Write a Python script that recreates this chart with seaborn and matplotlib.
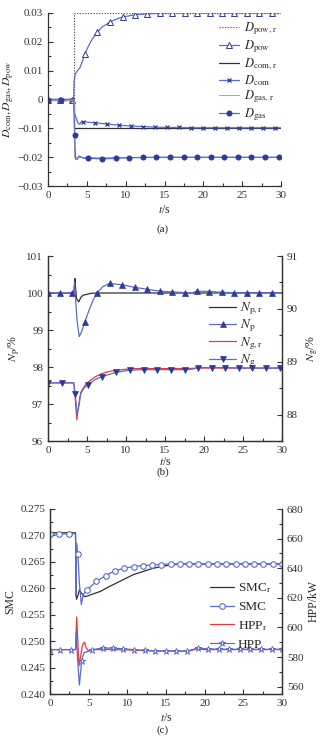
import numpy as np
import seaborn as sns
from matplotlib import pyplot as plt
from matplotlib.ticker import MultipleLocator

# ---------------- panel (a) data ----------------
t_pow_r = [0, 3.3, 3.3, 30]
d_pow_r = [0, 0, 0.03, 0.03]
t_com_r = [0, 3.3, 3.3, 30]
d_com_r = [0, 0, -0.01, -0.01]
t_gas_r = [0, 3.3, 3.3, 30]
d_gas_r = [0, 0, -0.02, -0.02]

t_pow = [0, 1.6, 3.15, 3.3, 3.35, 3.5, 3.8, 4.1, 4.4, 4.75, 5.2, 5.7, 6.35, 7.0, 7.95,
         8.8, 9.6, 11.2, 12.8, 14.4, 16.0, 17.6, 19.2, 20.8, 22.4, 24.0, 25.6, 27.2, 28.8, 30]
d_pow = [0, 0, 0, 0, 0.006, 0.0088, 0.0100, 0.0110, 0.0130, 0.0158, 0.0185, 0.0210, 0.0233,
         0.0252, 0.0268, 0.0279, 0.0286, 0.0294, 0.0297, 0.0299, 0.0300, 0.0300, 0.0300,
         0.0300, 0.0300, 0.0300, 0.0300, 0.0300, 0.0300, 0.0300]
mk_pow = [0, 1, 2, 9, 12, 14, 16, 17, 18, 19, 20, 21, 22, 23, 24, 25, 26, 27, 28]

t_com = [0, 1.6, 3.15, 3.3, 3.42, 3.6, 3.85, 4.08, 4.25, 4.48, 6.02, 7.57, 9.1, 10.66,
         12.2, 13.75, 15.3, 16.84, 18.39, 19.93, 21.48, 23.02, 24.57, 26.11, 27.66, 29.2, 30]
d_com = [0, 0, 0, 0, -0.0047, -0.0062, -0.0082, -0.0086, -0.0078, -0.0077, -0.0081,
         -0.0085, -0.0089, -0.0092, -0.0094, -0.0096, -0.0097, -0.0097, -0.0098, -0.0098,
         -0.0098, -0.0098, -0.0098, -0.0098, -0.0098, -0.0098, -0.0098]
mk_com = [0, 1, 2] + list(range(9, 26))

t_gas = [0, 1.72, 3.3, 3.44, 3.55, 3.75, 4.0, 4.3, 4.6, 5.2, 6.95, 8.7, 10.45, 12.2,
         13.95, 15.7, 17.45, 19.2, 20.95, 22.7, 24.45, 26.2, 27.95, 29.7, 30]
d_gas = [0, 0, 0, -0.0123, -0.0207, -0.0208, -0.0196, -0.0200, -0.0204, -0.0204, -0.0206,
         -0.0204, -0.0202, -0.0201, -0.0200, -0.0200, -0.0200, -0.0200, -0.0200, -0.0200,
         -0.0200, -0.0200, -0.0200, -0.0200, -0.0200]
mk_gas = [0, 1, 3] + list(range(9, 24))

# ---------------- panel (b) data ----------------
t_np_r = [0, 3.3, 3.38, 3.45, 3.52, 3.65, 3.95, 4.2, 4.5, 4.9, 5.5, 6.2, 30]
n_p_r = [100, 100, 100.15, 100.39, 100.2, 99.85, 99.76, 99.88, 99.94, 99.96, 99.99, 100, 100]

t_np = [0, 1.6, 3.1, 3.3, 3.4, 3.5, 3.7, 4.0, 4.3, 4.72, 5.2, 5.8, 6.3, 7.0, 7.95, 8.7,
        9.55, 11.16, 12.75, 14.3, 15.9, 17.5, 18.5, 19.1, 20.7, 22.3, 23.9, 25.5, 27.1, 28.7, 30]
n_p = [100, 100, 100, 100, 100.3, 100.0, 99.3, 98.82, 98.95, 99.22, 99.5, 99.82, 100.0,
       100.17, 100.26, 100.24, 100.22, 100.15, 100.10, 100.05, 100.03, 100.01, 100.01,
       100.05, 100.04, 100.02, 100.01, 100.01, 100.01, 100.01, 100.01]
mk_np = [0, 1, 2, 9, 12, 14, 16, 17, 18, 19, 20, 21, 23, 24, 25, 26, 27, 28, 29]

t_ng_r = [0, 3.3, 3.5, 3.7, 3.85, 4.2, 4.6, 5.0, 6.0, 7.0, 8.0, 9.5, 11, 13, 18, 19.2, 30]
n_g_r = [88.6, 88.6, 88.3, 87.9, 88.1, 88.42, 88.52, 88.6, 88.71, 88.78, 88.82, 88.85,
         88.87, 88.87, 88.87, 88.88, 88.88]

t_ng = [0, 1.75, 3.3, 3.5, 3.7, 3.9, 4.2, 4.6, 5.1, 6.0, 6.95, 8.75, 10.5, 12.3, 14.0,
        15.75, 17.5, 18.5, 19.2, 21.0, 22.7, 24.5, 26.2, 28.0, 29.7, 30]
n_g = [88.6, 88.6, 88.6, 88.38, 88.03, 88.1, 88.4, 88.5, 88.56, 88.66, 88.72, 88.80,
       88.84, 88.85, 88.85, 88.85, 88.85, 88.86, 88.89, 88.89, 88.89, 88.88, 88.88,
       88.88, 88.88, 88.88]
mk_ng = [0, 1, 3, 8, 10, 11, 12, 13, 14, 15, 16, 18, 19, 20, 21, 22, 23, 24]

# ---------------- panel (c) data ----------------
t_smc_r = [0, 3.3, 3.35, 3.42, 3.6, 3.8, 4.1, 4.5, 4.75, 5.5, 6.5, 7.5, 8.6, 9.7, 10.8,
           11.9, 12.9, 14.0, 15.1, 16.2, 17.3, 30]
smc_r = [0.2705, 0.2705, 0.264, 0.2579, 0.2586, 0.2597, 0.2590, 0.2584, 0.2585, 0.2589,
         0.2594, 0.2602, 0.2610, 0.2618, 0.2626, 0.2631, 0.2636, 0.2640, 0.2643, 0.2645,
         0.2646, 0.2646]

t_smc = [0, 1.2, 2.4, 3.3, 3.36, 3.45, 3.6, 3.8, 4.05, 4.3, 4.8, 6.0, 7.2, 8.4, 9.6, 10.8,
         12.0, 13.2, 14.4, 15.6, 16.8, 18.0, 19.2, 20.4, 21.6, 22.8, 24.0, 25.2, 26.4,
         27.6, 28.8, 30.0]
smc = [0.2703, 0.2703, 0.2703, 0.2703, 0.2585, 0.2685, 0.2665, 0.2610, 0.2569, 0.2588,
       0.2597, 0.2613, 0.2624, 0.2633, 0.2638, 0.2641, 0.2643, 0.2644, 0.2645, 0.2646,
       0.2646, 0.2646, 0.2646, 0.2646, 0.2646, 0.2646, 0.2646, 0.2646, 0.2646, 0.2646,
       0.2646, 0.2646]
mk_smc = [0, 1, 2, 6] + list(range(10, 32))

t_hpp_r = [0, 3.3, 3.45, 3.6, 3.75, 3.95, 4.2, 4.45, 4.7, 5.0, 5.5, 6.5, 8, 10, 12, 14,
           18, 19, 20, 30]
hpp_r = [585, 585, 607, 590, 574, 580, 588, 590, 586, 584, 585, 585, 585, 584.8, 584.3,
         584, 584, 585.5, 585, 585]

t_hpp = [0, 1.35, 2.7, 3.3, 3.4, 3.55, 3.8, 4.1, 4.4, 4.8, 5.45, 6.8, 8.2, 9.5, 10.85,
         12.25, 13.6, 15.0, 16.35, 17.7, 19.1, 20.45, 21.8, 23.2, 24.55, 25.9, 27.3,
         28.65, 30]
hpp = [585, 585, 585, 585, 597, 580, 561, 577.5, 583, 583.5, 585, 586, 586, 585.5, 585,
       584.5, 584.2, 584, 584, 584, 586, 585.5, 585.3, 585.2, 585.2, 585.2, 585.2,
       585.2, 585.2]
mk_hpp = [0, 1, 2, 7] + list(range(10, 29))

# ---------------- style ----------------
sns.set_theme(style="ticks")
plt.rcParams["font.family"] = ["Liberation Serif", "DejaVu Serif"]
plt.rcParams["mathtext.fontset"] = "stix"
plt.rcParams["axes.unicode_minus"] = True
FS = 8
LFS = 9.5

BLUE = "#5b6ccc"
NAVY = "#2c3a98"
BLACK = "#303030"
RED = "#e8393a"
GRAY = "#a8a8a8"

fig = plt.figure(figsize=(3.2, 7.44), dpi=100)
W, H = 320, 744


def px_axes(left, top, right, bottom):
    return fig.add_axes([left / W, 1 - bottom / H, (right - left) / W, (bottom - top) / H])


def style_axis(ax, xmaj, xmin, ymaj, ymin):
    ax.xaxis.set_major_locator(MultipleLocator(xmaj))
    ax.xaxis.set_minor_locator(MultipleLocator(xmin))
    ax.yaxis.set_major_locator(MultipleLocator(ymaj))
    ax.yaxis.set_minor_locator(MultipleLocator(ymin))
    ax.tick_params(which="both", direction="in", labelsize=FS, colors="#333333", width=0.8)
    ax.tick_params(which="major", length=3.5)
    ax.tick_params(which="minor", length=2)
    for s in ax.spines.values():
        s.set_linewidth(0.9)
        s.set_color("#333333")


def line(ax, t, y, color, label, lw=0.9, **kw):
    sns.lineplot(x=t, y=y, ax=ax, color=color, lw=lw, label=label,
                 sort=False, estimator=None, legend=False, **kw)


# ---------------- (a) ----------------
ax = px_axes(48, 13, 281, 186)
line(ax, t_pow_r, d_pow_r, "#555555", r"$D_{\rm pow,\,r}$", lw=0.9, ls=(0, (1, 1.2)))
line(ax, t_pow, d_pow, BLUE, r"$D_{\rm pow}$", marker="^", ms=4, mfc="white",
     mec=NAVY, mew=0.7, markevery=mk_pow)
line(ax, t_com_r, d_com_r, BLACK, r"$D_{\rm com,\,r}$")
line(ax, t_com, d_com, BLUE, r"$D_{\rm com}$", marker="x", ms=3.5, mec=NAVY, mew=0.9,
     markevery=mk_com)
line(ax, t_gas_r, d_gas_r, GRAY, r"$D_{\rm gas,\,r}$", lw=0.8)
line(ax, t_gas, d_gas, BLUE, r"$D_{\rm gas}$", marker="o", ms=3.8, mfc=NAVY, mec=NAVY,
     mew=0.5, markevery=mk_gas)
ax.set_xlim(0, 30)
ax.set_ylim(-0.03, 0.03)
style_axis(ax, 5, 2.5, 0.01, 0.005)
ax.set_yticks(np.arange(-0.03, 0.031, 0.01))
ax.set_yticklabels(["−0.03", "−0.02", "−0.01", "0", "0.01", "0.02", "0.03"])
sns.despine(ax=ax)
ax.set_xlabel("$t$/s", fontsize=FS + 0.5, labelpad=3)
ax.set_ylabel(r"$D_{\rm com}, D_{\rm gas}, D_{\rm pow}$", fontsize=FS + 0.5, labelpad=1)
ax.legend(loc="upper left", bbox_to_anchor=(0.735, 0.955), frameon=False,
          fontsize=9, handlelength=1.6, handletextpad=0.35, labelspacing=0.08,
          borderpad=0, borderaxespad=0)
fig.text(163 / W, 1 - 229 / H, "(a)", ha="center", va="center", fontsize=FS)

# ---------------- (b) ----------------
ax = px_axes(48, 256, 282, 441)
ax2 = ax.twinx()
line(ax, t_np_r, n_p_r, BLACK, r"$N_{\rm p,r}$")
line(ax, t_np, n_p, BLUE, r"$N_{\rm p}$", marker="^", ms=4, mfc=NAVY, mec=NAVY,
     mew=0.5, markevery=mk_np)
line(ax2, t_ng_r, n_g_r, RED, r"$N_{\rm g,r}$")
line(ax2, t_ng, n_g, BLUE, r"$N_{\rm g}$", marker="v", ms=4, mfc=NAVY, mec=NAVY,
     mew=0.5, markevery=mk_ng)
ax.set_xlim(0, 30)
ax.set_ylim(96, 101)
ax2.set_ylim(87.5, 91)
style_axis(ax, 5, 2.5, 1, 0.5)
style_axis(ax2, 5, 2.5, 1, 0.5)
for a in (ax, ax2):
    a.spines["top"].set_visible(False)
ax.set_xlabel("$t$/s", fontsize=FS + 0.5, labelpad=0.5)
ax.set_ylabel(r"$N_{\rm p}$/%", fontsize=FS + 0.5, labelpad=3)
ax2.set_ylabel(r"$N_{\rm g}$/%", fontsize=FS + 0.5, labelpad=5)
h1, l1 = ax.get_legend_handles_labels()
h2, l2 = ax2.get_legend_handles_labels()
ax2.legend(h1 + h2, l1 + l2, loc="upper left", bbox_to_anchor=(0.69, 0.76),
           frameon=False, fontsize=LFS, handlelength=2.0, handletextpad=0.3,
           labelspacing=0.05, borderpad=0, borderaxespad=0)
fig.text(163 / W, 1 - 472 / H, "(b)", ha="center", va="center", fontsize=FS)

# ---------------- (c) ----------------
ax = px_axes(50, 509, 282, 694)
ax2 = ax.twinx()
line(ax, t_smc_r, smc_r, BLACK, r"SMC$_{\rm r}$")
line(ax, t_smc, smc, BLUE, "SMC", marker="o", ms=4, mfc="white", mec=BLUE, mew=0.8,
     markevery=mk_smc)
line(ax2, t_hpp_r, hpp_r, RED, r"HPP$_{\rm r}$")
line(ax2, t_hpp, hpp, BLUE, "HPP", marker="*", ms=4.5, mfc="white", mec=BLUE, mew=0.7,
     markevery=mk_hpp)
ax.set_xlim(0, 30)
ax.set_ylim(0.240, 0.275)
ax2.set_ylim(555, 680)
style_axis(ax, 5, 2.5, 0.005, 0.0025)
style_axis(ax2, 5, 2.5, 20, 10)
ax.set_yticks(np.arange(0.240, 0.2751, 0.005))
ax.set_yticklabels([f"{v:.3f}" for v in np.arange(0.240, 0.2751, 0.005)])
for a in (ax, ax2):
    a.spines["top"].set_visible(False)
ax.set_xlabel("$t$/s", fontsize=FS + 0.5, labelpad=3)
ax.set_ylabel("SMC", fontsize=FS + 0.5, labelpad=3)
ax2.set_ylabel("HPP/kW", fontsize=FS + 0.5, labelpad=3)
h1, l1 = ax.get_legend_handles_labels()
h2, l2 = ax2.get_legend_handles_labels()
ax2.legend(h1 + h2, l1 + l2, loc="upper left", bbox_to_anchor=(0.69, 0.61),
           frameon=False, fontsize=LFS, handlelength=1.8, handletextpad=0.3,
           labelspacing=0.45, borderpad=0, borderaxespad=0)
fig.text(163 / W, 1 - 730 / H, "(c)", ha="center", va="center", fontsize=FS)

fig.savefig("out.png", dpi=100, facecolor="white")
